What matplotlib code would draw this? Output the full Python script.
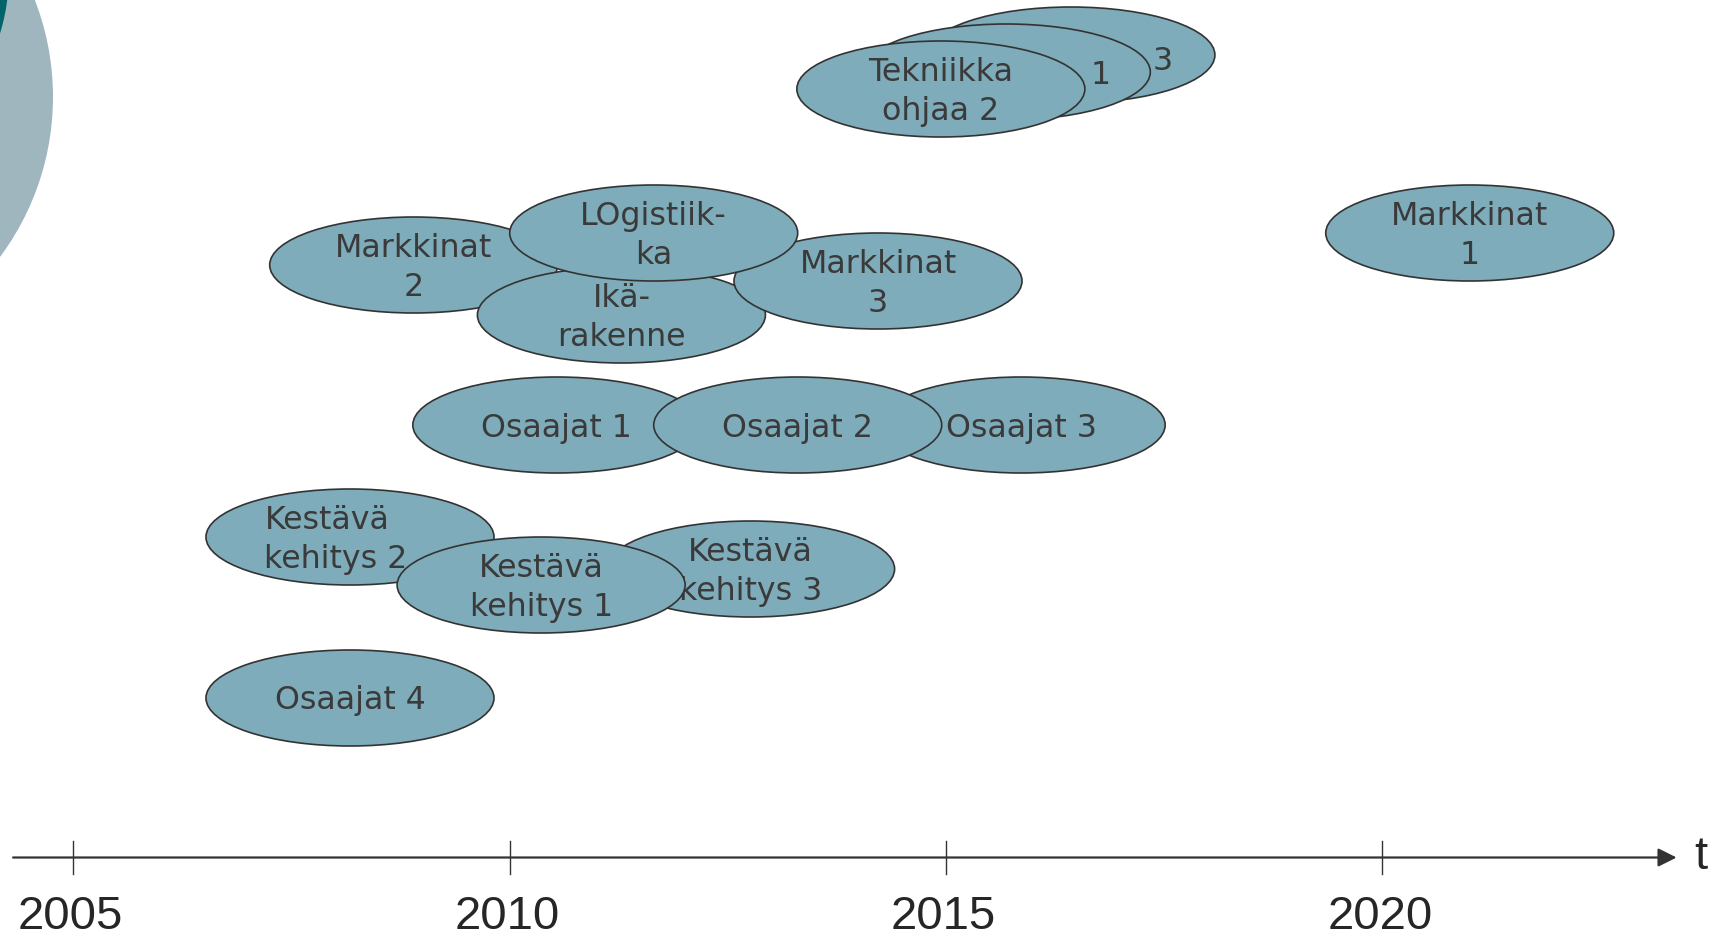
import matplotlib.pyplot as plt
from matplotlib.patches import Ellipse, Circle

# topics on the timeline, in drawing order (later ones lie on top);
# of the two back "Tekniikka ohjaa" ellipses only the number shows
labels = ["3", "1", "Tekniikka\nohjaa 2",
          "Markkinat\n2", "Ikä-\nrakenne", "Markkinat\n3", "LOgistiik-\nka",
          "Markkinat\n1",
          "Osaajat 1", "Osaajat 3", "Osaajat 2",
          "Kestävä\nkehitys 2", "Kestävä\nkehitys 3", "Kestävä\nkehitys 1",
          "Osaajat 4"]
years = [2016.43, 2015.69, 2014.94,
         2008.90, 2011.28, 2014.22, 2011.65,
         2021.00,
         2010.54, 2015.86, 2013.30,
         2008.17, 2012.76, 2010.36,
         2008.17]
rows = [55, 72, 89,
        265, 315, 281, 233,
        233,
        425, 425, 425,
        537, 569, 585,
        698]
tick_years = [2005, 2010, 2015, 2020]

# label shifts (years, rows) for labels not centred in their ellipse
text_dx = {0: 1.05, 1: 1.08, 11: -0.16}
text_dy = {0: 3, 1: 1}

fig = plt.figure(figsize=(17.15, 9.36), dpi=100)

# decoration in the top left corner (pixel coordinates)
bg = fig.add_axes([0, 0, 1, 1])
bg.set_xlim(0, 1715)
bg.set_ylim(936, 0)
bg.axis("off")
bg.add_patch(Circle((-215, 97), 268, color="#9fb6bf", lw=0))
bg.add_patch(Circle((-200, -27), 209, color="#00646a", lw=0))

ax = fig.add_axes([0, 0, 1, 1])
ax.patch.set_alpha(0)
ax.set_xlim(2004.16, 2023.81)
ax.set_ylim(936, 0)
ax.axis("off")

w, h = 3.30, 96
for i, (lab, x, y) in enumerate(zip(labels, years, rows)):
    z = 2 + i
    ax.add_patch(Ellipse((x, y), w, h, facecolor="#7eacba",
                         edgecolor="#333333", lw=1.2, zorder=z))
    ax.text(x + text_dx.get(i, 0), y + 3 + text_dy.get(i, 0), lab,
            ha="center", va="center",
            multialignment="left" if i == 11 else "center",
            fontsize=22.8, color="#3a3a3a", linespacing=1.36,
            family="DejaVu Sans", zorder=z + 0.5)

# time axis
ax.annotate("", xy=(2023.37, 857.5), xytext=(2004.31, 857.5),
            arrowprops=dict(arrowstyle="-|>", color="#333333", lw=1.6,
                            mutation_scale=28, shrinkA=0, shrinkB=0))
for yr in tick_years:
    ax.plot([yr, yr], [841, 874], color="#333333", lw=1.0)
    ax.text(yr - 0.03, 917, str(yr), ha="center", va="center",
            fontsize=34, color="#262626", family="Liberation Sans")
ax.text(2023.65, 857, "t", ha="center", va="center", fontsize=34,
        color="#262626", family="Liberation Sans")

fig.savefig("out.png", dpi=100)
